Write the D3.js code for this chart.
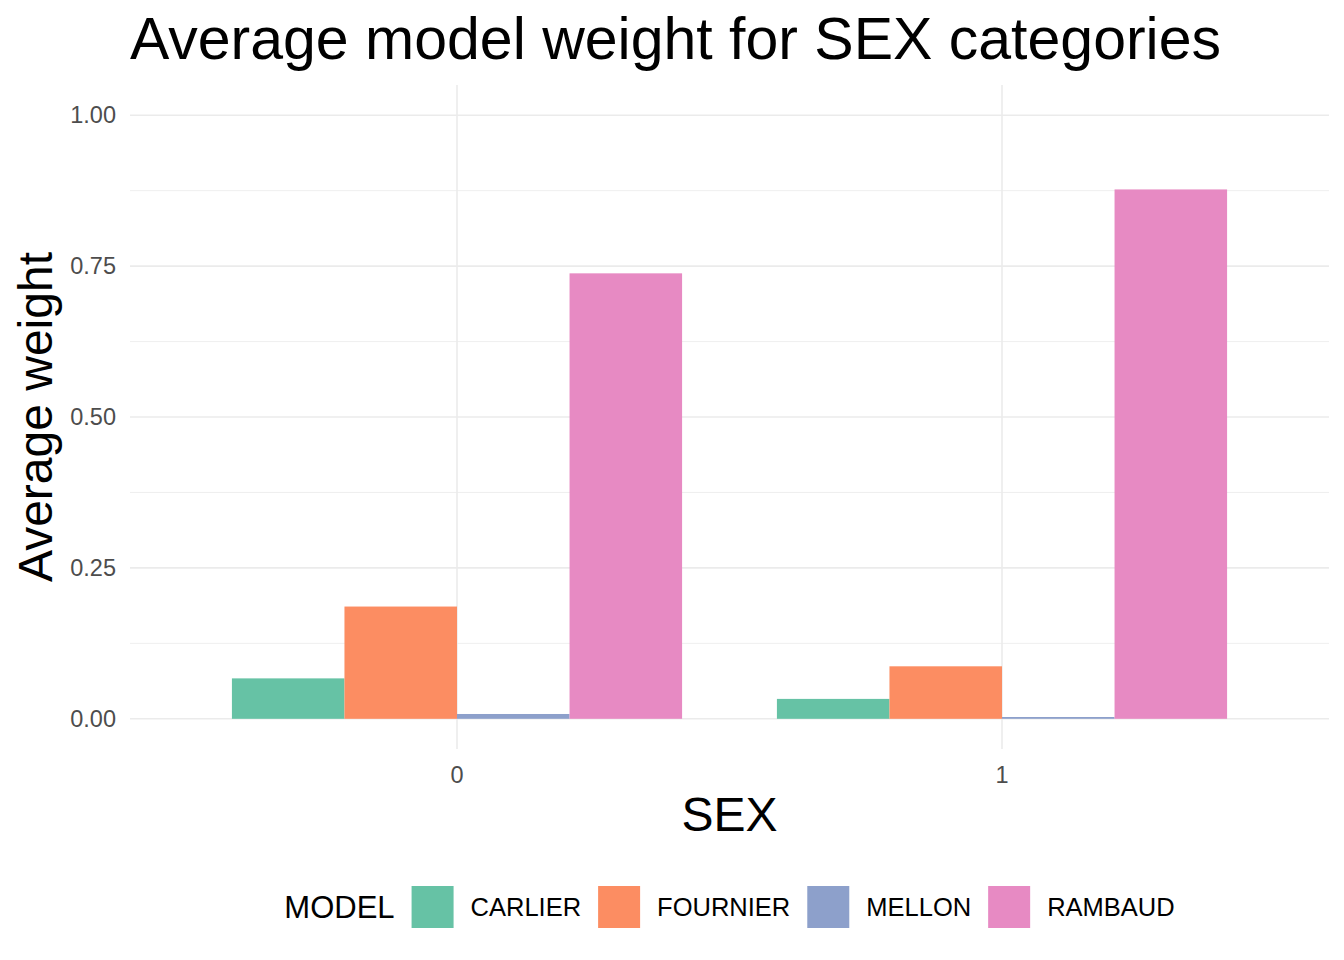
<!DOCTYPE html>
<html><head><meta charset="utf-8">
<script src="https://cdn.jsdelivr.net/npm/d3@7"></script>
<style>body{margin:0;background:#fff;} svg{display:block;font-family:"Liberation Sans",Arial,sans-serif;}</style>
</head><body>
<svg id="chart" width="1344" height="960"></svg>
<script>
const sexCategories = ["0", "1"];
const models = ["CARLIER", "FOURNIER", "MELLON", "RAMBAUD"];
const carlier = [0.067, 0.033];
const fournier = [0.186, 0.087];
const mellon = [0.008, 0.003];
const rambaud = [0.738, 0.877];
const yTicks = [0, 0.25, 0.5, 0.75, 1.0];
const yMinor = [0.125, 0.375, 0.625, 0.875];
const colors = ["#66C2A5", "#FC8D62", "#8DA0CB", "#E78AC3"];
const titleText = "Average model weight for SEX categories";

const seriesValues = [carlier, fournier, mellon, rambaud];
const rows = [];
sexCategories.forEach((s, i) => models.forEach((m, j) => rows.push({sex: s, model: m, value: seriesValues[j][i]})));

const svg = d3.select("#chart");
const panel = {left: 130, right: 1329, top: 85, bottom: 749};

// discrete x with 0.6 expansion on each side
const nCat = sexCategories.length;
const x = d3.scalePoint().domain(sexCategories)
  .range([panel.left + (panel.right - panel.left) * 0.6 / (nCat - 1 + 1.2),
          panel.right - (panel.right - panel.left) * 0.6 / (nCat - 1 + 1.2)]);
const unit = x.step();
const dodge = d3.scaleBand().domain(models).range([-0.413 * unit, 0.413 * unit]);
const y = d3.scaleLinear().domain([-0.05, 1.05]).range([panel.bottom, panel.top]);

const color = d3.scaleOrdinal().domain(models).range(colors);

// grid
svg.append("g").selectAll("line").data(yMinor).join("line")
  .attr("x1", panel.left).attr("x2", panel.right)
  .attr("y1", d => y(d)).attr("y2", d => y(d))
  .attr("stroke", "#EBEBEB").attr("stroke-width", 0.8);
svg.append("g").selectAll("line").data(yTicks).join("line")
  .attr("x1", panel.left).attr("x2", panel.right)
  .attr("y1", d => y(d)).attr("y2", d => y(d))
  .attr("stroke", "#EBEBEB").attr("stroke-width", 1.6);
svg.append("g").selectAll("line").data(sexCategories).join("line")
  .attr("x1", d => x(d)).attr("x2", d => x(d))
  .attr("y1", panel.top).attr("y2", panel.bottom)
  .attr("stroke", "#EBEBEB").attr("stroke-width", 1.6);

// bars
svg.append("g").selectAll("rect").data(rows).join("rect")
  .attr("x", d => x(d.sex) + dodge(d.model))
  .attr("width", dodge.bandwidth())
  .attr("y", d => y(d.value))
  .attr("height", d => y(0) - y(d.value))
  .attr("fill", d => color(d.model));

// y axis labels
const yAxis = d3.axisLeft(y).tickValues(yTicks).tickFormat(d3.format(".2f")).tickSize(0).tickPadding(14);
const yg = svg.append("g").attr("transform", `translate(${panel.left},0)`).call(yAxis);
yg.select(".domain").remove();
yg.selectAll("text").attr("font-size", 23.5).attr("fill", "#4D4D4D").attr("font-family", "Liberation Sans, Arial, sans-serif");

// x axis labels
svg.append("g").selectAll("text").data(sexCategories).join("text")
  .attr("x", d => x(d)).attr("y", 783)
  .attr("text-anchor", "middle").attr("font-size", 23.5).attr("fill", "#4D4D4D")
  .text(d => d);

// titles
svg.append("text").attr("x", panel.left).attr("y", 59).attr("font-size", 59).attr("fill", "#000").text(titleText);
svg.append("text").attr("x", (panel.left + panel.right) / 2).attr("y", 831).attr("text-anchor", "middle").attr("font-size", 48).text("SEX");
svg.append("text").attr("transform", `translate(52,${(panel.top + panel.bottom) / 2}) rotate(-90)`).attr("text-anchor", "middle").attr("font-size", 48).text("Average weight");

// legend
const lg = svg.append("g");
const keySize = 42, keyGap = 17, itemGap = 17, titleGap = 17;
const lt = lg.append("text").attr("x", 0).attr("y", 0).attr("dy", "0.35em").attr("font-size", 31).text("MODEL");
let cx = lt.node().getComputedTextLength() + titleGap;
models.forEach((m) => {
  lg.append("rect").attr("x", cx).attr("y", -keySize / 2).attr("width", keySize).attr("height", keySize).attr("fill", color(m));
  cx += keySize + keyGap;
  const t = lg.append("text").attr("x", cx).attr("y", 0).attr("dy", "0.35em").attr("font-size", 25.5).text(m);
  cx += t.node().getComputedTextLength() + itemGap;
});
const total = cx - itemGap;
lg.attr("transform", `translate(${(panel.left + panel.right) / 2 - total / 2},907)`);
</script>
</body></html>
